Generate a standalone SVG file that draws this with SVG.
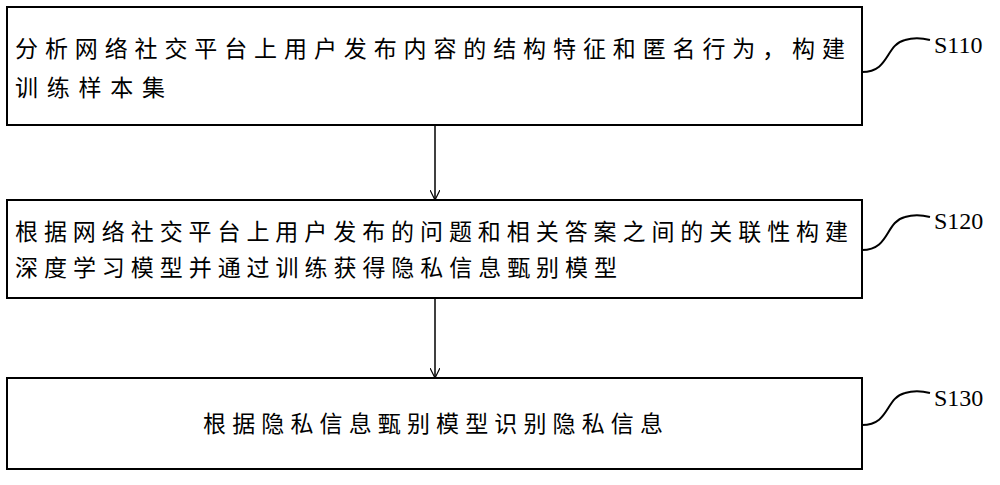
<svg xmlns="http://www.w3.org/2000/svg" width="1000" height="485" viewBox="0 0 1000 485">
<style>
.b{fill:#fff;stroke:#000;stroke-width:2}
.t{font-family:"Noto Sans CJK SC",sans-serif;font-size:23px;fill:#000}
.s{font-family:"Liberation Serif",serif;font-size:24px;fill:#000}
.c{fill:none;stroke:#000;stroke-width:1.5}
.l{fill:none;stroke:#000;stroke-width:2}
</style>
<defs><marker id="a" markerWidth="10" markerHeight="10" refX="9" refY="5" orient="auto" markerUnits="userSpaceOnUse"><path d="M0,0 L10,5 L0,10" fill="none" stroke="#000" stroke-width="1.2"/></marker></defs>
<rect width="1000" height="485" fill="#fff"/>
<g id="n1"><rect class="b" x="7" y="7" width="855" height="118"/>
<text class="t" x="15" y="57" textLength="830" lengthAdjust="spacing">分析网络社交平台上用户发布内容的结构特征和匿名行为，构建</text>
<text class="t" x="15" y="96" textLength="150" lengthAdjust="spacing">训练样本集</text></g>
<g id="n2"><rect class="b" x="7" y="200" width="855" height="98"/>
<text class="t" x="15" y="240" textLength="833" lengthAdjust="spacing">根据网络社交平台上用户发布的问题和相关答案之间的关联性构建</text>
<text class="t" x="15" y="276" textLength="602" lengthAdjust="spacing">深度学习模型并通过训练获得隐私信息甄别模型</text></g>
<g id="n3"><rect class="b" x="7" y="378" width="855" height="91"/>
<text class="t" x="203" y="432" textLength="460" lengthAdjust="spacing">根据隐私信息甄别模型识别隐私信息</text></g>
<g id="l"><text class="s" x="934" y="53">S110</text><text class="s" x="934" y="229">S120</text><text class="s" x="934" y="406">S130</text></g>
<g id="e">
<path class="c" d="M435,125 V199" marker-end="url(#a)"/>
<path class="c" d="M435,298 V377" marker-end="url(#a)"/>
<path class="l" d="M862,72 C890,72 885,45 905,40 C915,37 922,38 930,40"/>
<path class="l" d="M862,250 C890,250 885,222 905,217 C915,214 922,215 930,217"/>
<path class="l" d="M862,425 C890,425 885,398 905,393 C915,390 922,391 930,393"/>
</g>
</svg>
